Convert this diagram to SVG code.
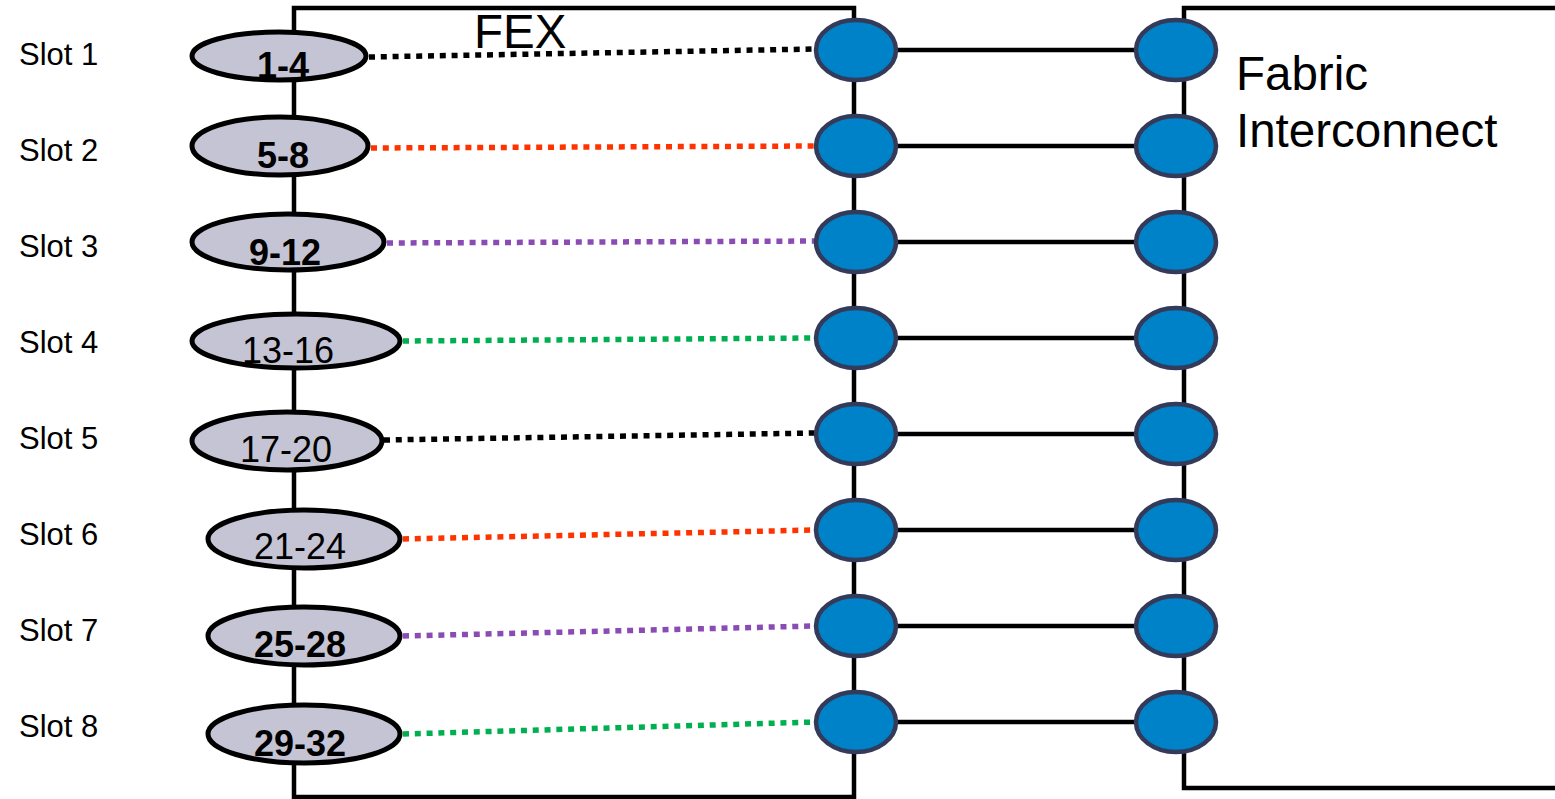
<svg xmlns="http://www.w3.org/2000/svg" width="1555" height="799" viewBox="0 0 1555 799">
  <style>
    .box { fill: none; stroke: #000; stroke-width: 4.5; }
    .slot { fill: #C4C4D4; stroke: #000; stroke-width: 5; }
    .port { fill: #0082C8; stroke: #333A5A; stroke-width: 4.5; }
    .link { stroke: #000; stroke-width: 4.5; }
    .dot { fill: none; stroke-width: 5.5; stroke-dasharray: 6 5.8; }
    .lbl { font-family: "Liberation Sans", Arial, sans-serif; fill: #000; }
    .slotname { font-size: 31px; }
    .num { font-size: 36px; text-anchor: middle; }
    .b { font-weight: bold; }
    .title { font-size: 47.5px; }
  </style>

  <!-- FEX chassis -->
  <g id="fex">
    <rect class="box" x="294" y="8" width="560" height="789"/>
    <text class="lbl title" x="474" y="48">FEX</text>
  </g>

  <!-- Fabric Interconnect chassis (open to the right) -->
  <g id="fabric-interconnect">
    <path class="box" d="M1560 8 H1184 V788 H1560"/>
    <text class="lbl title" x="1236" y="90">Fabric</text>
    <text class="lbl title" x="1236" y="147">Interconnect</text>
  </g>

  <!-- slot names -->
  <g id="slot-names" class="lbl slotname">
    <text x="19" y="65">Slot 1</text>
    <text x="19" y="161">Slot 2</text>
    <text x="19" y="257">Slot 3</text>
    <text x="19" y="353">Slot 4</text>
    <text x="19" y="449">Slot 5</text>
    <text x="19" y="545">Slot 6</text>
    <text x="19" y="641">Slot 7</text>
    <text x="19" y="737">Slot 8</text>
  </g>

  <!-- connectors -->
  <g id="connectors">
    <line class="dot" stroke="#000" x1="369" y1="57" x2="815" y2="49"/>
    <line class="dot" stroke="#FF3300" x1="371" y1="148" x2="815" y2="146"/>
    <line class="dot" stroke="#8A4BB4" x1="387" y1="243" x2="815" y2="241"/>
    <line class="dot" stroke="#00B050" x1="403" y1="341" x2="815" y2="338"/>
    <line class="dot" stroke="#000" x1="384" y1="440" x2="815" y2="433"/>
    <line class="dot" stroke="#FF3300" x1="403" y1="539" x2="815" y2="530"/>
    <line class="dot" stroke="#8A4BB4" x1="403" y1="636" x2="815" y2="626"/>
    <line class="dot" stroke="#00B050" x1="403" y1="734" x2="815" y2="722"/>

    <line class="link" x1="896" y1="50" x2="1136" y2="50"/>
    <line class="link" x1="896" y1="146" x2="1136" y2="146"/>
    <line class="link" x1="896" y1="242" x2="1136" y2="242"/>
    <line class="link" x1="896" y1="338" x2="1136" y2="338"/>
    <line class="link" x1="896" y1="434" x2="1136" y2="434"/>
    <line class="link" x1="896" y1="530" x2="1136" y2="530"/>
    <line class="link" x1="896" y1="626" x2="1136" y2="626"/>
    <line class="link" x1="896" y1="722" x2="1136" y2="722"/>
  </g>

  <!-- slot port groups -->
  <g id="slot-1"><ellipse class="slot" cx="279" cy="56" rx="87" ry="24"/><text class="lbl num b" x="283" y="78">1-4</text></g>
  <g id="slot-2"><ellipse class="slot" cx="280" cy="146" rx="88" ry="29"/><text class="lbl num b" x="283" y="168">5-8</text></g>
  <g id="slot-3"><ellipse class="slot" cx="288" cy="242" rx="96" ry="28"/><text class="lbl num b" x="285" y="265">9-12</text></g>
  <g id="slot-4"><ellipse class="slot" cx="296" cy="341" rx="104" ry="27"/><text class="lbl num" x="288" y="363">13-16</text></g>
  <g id="slot-5"><ellipse class="slot" cx="287" cy="441" rx="95" ry="29"/><text class="lbl num" x="286" y="462">17-20</text></g>
  <g id="slot-6"><ellipse class="slot" cx="304" cy="539" rx="96" ry="29"/><text class="lbl num" x="300" y="559">21-24</text></g>
  <g id="slot-7"><ellipse class="slot" cx="304" cy="636" rx="96" ry="29"/><text class="lbl num b" x="300" y="657">25-28</text></g>
  <g id="slot-8"><ellipse class="slot" cx="304" cy="734" rx="96" ry="29"/><text class="lbl num b" x="300" y="756">29-32</text></g>

  <!-- FEX fabric ports -->
  <g id="fex-ports">
    <ellipse class="port" cx="856" cy="50" rx="40" ry="30"/>
    <ellipse class="port" cx="856" cy="146" rx="40" ry="30"/>
    <ellipse class="port" cx="856" cy="242" rx="40" ry="30"/>
    <ellipse class="port" cx="856" cy="338" rx="40" ry="30"/>
    <ellipse class="port" cx="856" cy="434" rx="40" ry="30"/>
    <ellipse class="port" cx="856" cy="530" rx="40" ry="30"/>
    <ellipse class="port" cx="856" cy="626" rx="40" ry="30"/>
    <ellipse class="port" cx="856" cy="722" rx="40" ry="30"/>
  </g>

  <!-- Fabric Interconnect ports -->
  <g id="fi-ports">
    <ellipse class="port" cx="1176" cy="50" rx="40" ry="30"/>
    <ellipse class="port" cx="1176" cy="146" rx="40" ry="30"/>
    <ellipse class="port" cx="1176" cy="242" rx="40" ry="30"/>
    <ellipse class="port" cx="1176" cy="338" rx="40" ry="30"/>
    <ellipse class="port" cx="1176" cy="434" rx="40" ry="30"/>
    <ellipse class="port" cx="1176" cy="530" rx="40" ry="30"/>
    <ellipse class="port" cx="1176" cy="626" rx="40" ry="30"/>
    <ellipse class="port" cx="1176" cy="722" rx="40" ry="30"/>
  </g>
</svg>
